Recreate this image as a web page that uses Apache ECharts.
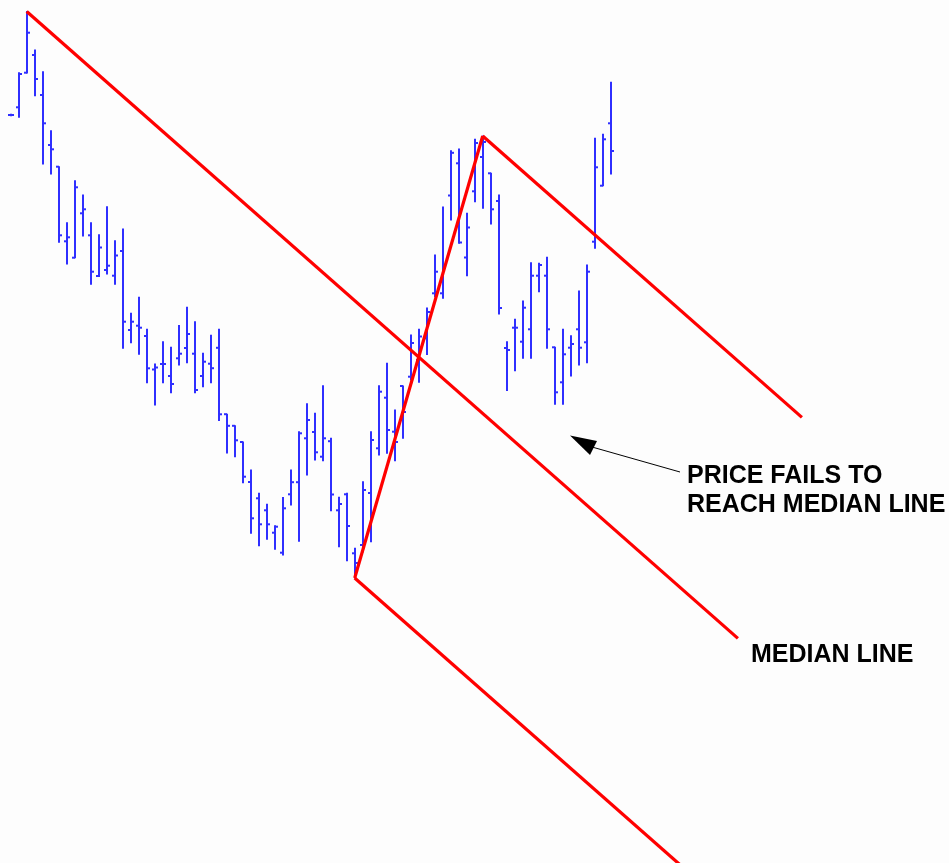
<!DOCTYPE html>
<html>
<head>
<meta charset="utf-8">
<script src="https://cdn.jsdelivr.net/npm/echarts@6/dist/echarts.min.js"></script>
<style>
html,body{margin:0;padding:0;background:#fdfdfd;}
#chart{width:949px;height:863px;}
</style>
</head>
<body>
<div id="chart"></div>
<script>
// ---- Data (price units) ----
var opens  = [88.5,89.27,92.73,94.5,90.5,85.5,83.33,75.87,74.23,78.67,76.47,72.4,73.0,72.43,74.9,67.0,67.43,66.4,63.05,63.6,62.4,64.17,65.2,64.63,62.4,63.63,65.22,58.58,57.42,55.8,51.8,50.17,48.97,46.73,44.73,50.57,51.78,56.17,56.8,54.33,55.88,48.97,50.57,44.67,45.5,50.7,55.17,60.23,56.83,61.4,62.33,64.0,66.17,70.67,70.67,80.45,83.67,74.25,80.87,84.3,82.67,79.9,65.2,67.23,65.83,67.07,72.43,72.43,65.27,61.77,65.23,67.07,65.77,75.83,81.43,87.67];
var highs  = [88.57,92.73,98.85,95.0,92.83,86.93,83.33,77.73,81.93,80.5,77.73,76.53,79.33,75.93,77.1,68.67,70.27,67.07,63.6,65.83,65.27,67.45,69.28,67.83,64.67,66.48,67.07,58.58,57.42,55.8,53.0,50.67,49.58,47.42,50.25,53.0,56.83,59.63,58.67,61.42,56.17,50.27,50.67,45.17,51.83,56.83,61.43,63.67,59.0,61.4,66.5,67.07,69.2,74.5,79.3,84.93,85.1,78.67,86.07,86.4,82.67,80.5,65.83,68.07,69.9,73.73,73.67,74.27,65.27,67.07,66.43,70.9,73.5,86.17,86.57,91.77];
var lows   = [88.42,88.27,92.7,90.43,83.6,82.6,75.77,73.6,74.23,76.4,71.57,72.35,72.6,71.57,65.17,65.73,64.57,61.73,59.5,61.73,60.73,63.5,63.73,60.73,61.33,61.73,57.95,54.7,54.33,51.73,46.67,45.42,46.07,45.07,44.5,49.5,45.87,52.5,54.0,53.92,48.93,45.33,43.93,42.2,44.83,45.83,54.5,54.67,53.93,56.17,62.0,61.77,64.55,70.33,70.17,78.0,75.67,72.43,79.83,79.17,77.6,68.6,60.95,62.93,64.17,64.17,70.83,65.17,59.57,59.57,62.4,63.5,63.73,75.17,81.43,82.6];
var closes = [88.5,92.6,96.73,92.1,87.67,85.07,76.47,76.27,81.27,79.07,72.83,75.25,73.43,74.45,67.83,67.83,67.23,63.17,63.25,63.6,61.6,64.63,66.6,61.0,63.83,63.18,58.57,57.42,55.97,52.33,48.17,47.57,47.57,47.33,49.17,51.78,56.67,58.0,54.77,56.17,50.55,49.6,47.4,43.7,51.0,56.0,60.83,57.0,55.8,58.8,65.7,66.35,68.8,72.83,73.2,84.72,75.75,77.25,85.7,85.8,79.07,69.2,65.0,67.23,69.23,72.43,73.5,67.07,60.77,64.57,65.6,65.23,72.83,83.27,86.07,84.9];

// Pitchfork pivots (bar indices): A = high, B = low, C = high
var pivotA = 2, pivotB = 43, pivotC = 59;
// How far (in bars) each tine is extended
var medianEnd = 90.9, upperEnd = 98.9, lowerEnd = 92;

// ---- Build ----
var ohlc = [];
for (var i = 0; i < opens.length; i++) ohlc.push([i, opens[i], highs[i], lows[i], closes[i]]);

var A = [pivotA, highs[pivotA]];
var B = [pivotB, lows[pivotB]];
var C = [pivotC, highs[pivotC]];
var M = [(B[0] + C[0]) / 2, (B[1] + C[1]) / 2];
var slope = (M[1] - A[1]) / (M[0] - A[0]);
function along(p, x) { return [x, p[1] + slope * (x - p[0])]; }

var redLine = { color: '#ff0000', width: 3.2 };
function seg(data) {
  return { type: 'line', data: data, symbol: 'none', silent: true, z: 5,
           lineStyle: redLine, clip: true, animation: false };
}

var chart = echarts.init(document.getElementById('chart'), null, { renderer: 'canvas' });
chart.setOption({
  backgroundColor: '#fdfdfd',
  animation: false,
  grid: { left: 0, right: 0, top: 0, bottom: 0 },
  xAxis: { type: 'value', min: -1.3375, max: 117.2875, show: false },
  yAxis: { type: 'value', min: 13.7, max: 100, show: false },
  series: [
    {
      type: 'custom',
      data: ohlc,
      encode: { x: 0, y: [1, 2, 3, 4] },
      z: 2,
      renderItem: function (params, api) {
        var x = api.value(0);
        var o = api.coord([x, api.value(1)]);
        var h = api.coord([x, api.value(2)]);
        var l = api.coord([x, api.value(3)]);
        var c = api.coord([x, api.value(4)]);
        var px = Math.round(o[0]);
        var st = { stroke: '#2f2fff', lineWidth: 2 };
        return {
          type: 'group',
          children: [
            { type: 'line', shape: { x1: px, y1: h[1] - 0.5, x2: px, y2: l[1] + 0.5 }, style: st },
            { type: 'line', shape: { x1: px - 3, y1: o[1], x2: px, y2: o[1] }, style: st },
            { type: 'line', shape: { x1: px, y1: c[1], x2: px + 3, y2: c[1] }, style: st }
          ]
        };
      }
    },
    seg([A, along(A, medianEnd)]),
    seg([C, along(C, upperEnd)]),
    seg([B, along(B, lowerEnd)]),
    seg([B, C])
  ],
  graphic: [
    { type: 'line', z: 20, shape: { x1: 592, y1: 447, x2: 680, y2: 472 },
      style: { stroke: '#000', lineWidth: 1 } },
    { type: 'polygon', z: 20, shape: { points: [[570, 435.5], [597, 441], [590, 455]] },
      style: { fill: '#000' } },
    { type: 'text', z: 20, left: 687, top: 462,
      style: { text: 'PRICE FAILS TO\nREACH MEDIAN LINE', fill: '#000',
               font: 'bold 25px "Liberation Sans", Arial, sans-serif', lineHeight: 29 } },
    { type: 'text', z: 20, left: 751, top: 643,
      style: { text: 'MEDIAN LINE', fill: '#000',
               font: 'bold 25px "Liberation Sans", Arial, sans-serif' } }
  ]
});
</script>
</body>
</html>
